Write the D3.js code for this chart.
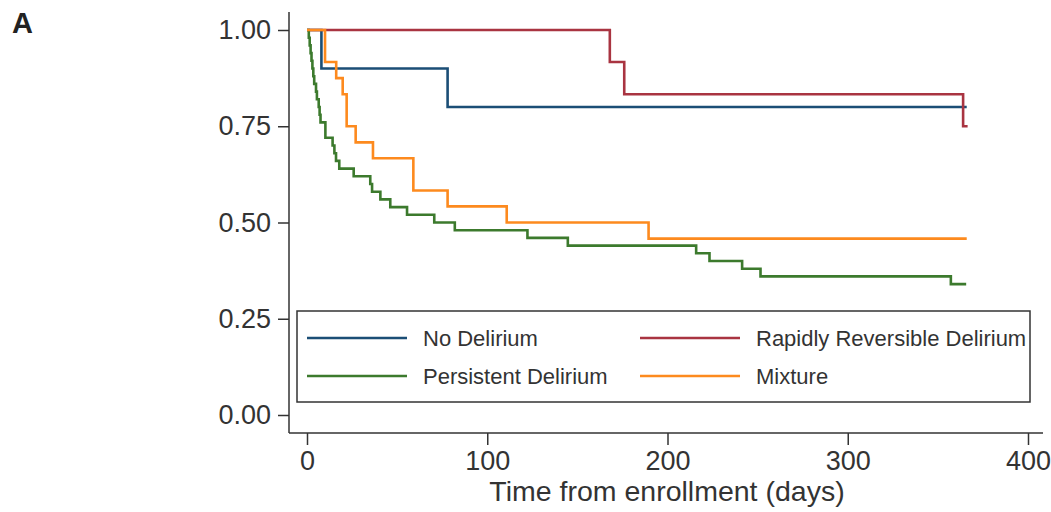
<!DOCTYPE html>
<html>
<head>
<meta charset="utf-8">
<script src="https://cdn.jsdelivr.net/npm/d3@7"></script>
<style>
  body { margin: 0; background: #fff; }
  svg { display: block; font-family: "Liberation Sans", Arial, sans-serif; }
</style>
</head>
<body>
<svg id="chart"></svg>
<script>
// Kaplan-Meier style survival curves
const groupNames = ["No Delirium", "Rapidly Reversible Delirium", "Persistent Delirium", "Mixture"];
const groupColors = ["#1b4e76", "#a93441", "#3c7a2d", "#fd8a1e"];

// [day, survival] at each step; last point is end of follow-up
const noDelirium = [[0, 1], [8, 0.9], [78, 0.8], [366, 0.8]];
const rapidlyReversible = [[0, 1], [168, 0.917], [176, 0.833], [364, 0.75], [366.5, 0.75]];
const persistent = [
  [0, 1], [1, 0.98], [1.5, 0.96], [2, 0.94], [2.5, 0.92], [3, 0.90], [3.5, 0.88],
  [4, 0.86], [5, 0.84], [5.5, 0.82], [6.5, 0.80], [7, 0.78], [7.5, 0.76],
  [10.2, 0.72], [14.2, 0.70], [15.2, 0.68], [16.1, 0.66], [17.9, 0.64],
  [25.9, 0.62], [35.1, 0.60], [36.1, 0.58], [40.7, 0.56], [46.2, 0.54],
  [55.5, 0.52], [70.6, 0.50], [82, 0.48], [122.3, 0.46], [144.7, 0.44],
  [215.9, 0.42], [223.3, 0.40], [241.4, 0.38], [251.6, 0.36], [357.2, 0.34],
  [365.7, 0.34]
];
const mixture = [
  [0, 1], [10, 0.917], [16.2, 0.875], [19.8, 0.833], [22, 0.75], [27, 0.708],
  [36.6, 0.667], [59, 0.583], [78, 0.542], [110.8, 0.5], [189.5, 0.458],
  [366, 0.458]
];
const curves = [noDelirium, rapidlyReversible, persistent, mixture];

const xTicks = [0, 100, 200, 300, 400];
const yTicks = [0, 0.25, 0.5, 0.75, 1];

// Constants
const width = 1051;
const height = 512;
const axisX = 289;   // y axis position
const axisY = 433;   // x axis position
const textColor = "#333";

const svg = d3.select("#chart")
    .attr("width", width)
    .attr("height", height);

// Scales
const xScale = d3.scaleLinear()
    .domain([0, 400])
    .range([307, 1028]);

const yScale = d3.scaleLinear()
    .domain([0, 1])
    .range([415, 30]);

// Axes
const xAxis = d3.axisBottom(xScale)
    .tickValues(xTicks)
    .tickSize(12)
    .tickPadding(6)
    .tickFormat(d3.format("d"));

const yAxis = d3.axisLeft(yScale)
    .tickValues(yTicks)
    .tickSize(11)
    .tickPadding(7)
    .tickFormat(d3.format(".2f"));

const gx = svg.append("g")
    .attr("transform", `translate(0,${axisY})`)
    .call(xAxis);

const gy = svg.append("g")
    .attr("transform", `translate(${axisX},0)`)
    .call(yAxis);

[gx, gy].forEach(g => {
  g.select(".domain").remove();
  g.selectAll(".tick line").attr("stroke", textColor).attr("stroke-width", 1.5);
  g.selectAll(".tick text")
      .attr("fill", textColor)
      .attr("font-size", 27)
      .attr("font-family", "Liberation Sans, Arial, sans-serif");
});

// axis lines extend past the plot region, Stata style
svg.append("line")
    .attr("x1", axisX).attr("x2", 1043)
    .attr("y1", axisY).attr("y2", axisY)
    .attr("stroke", textColor).attr("stroke-width", 1.5);

svg.append("line")
    .attr("x1", axisX).attr("x2", axisX)
    .attr("y1", 12).attr("y2", axisY)
    .attr("stroke", textColor).attr("stroke-width", 1.5);

// Curves
const line = d3.line()
    .x(d => xScale(d[0]))
    .y(d => yScale(d[1]))
    .curve(d3.curveStepAfter);

svg.append("g")
  .selectAll("path")
  .data(curves)
  .enter()
    .append("path")
    .attr("d", line)
    .attr("fill", "none")
    .attr("stroke", (d, i) => groupColors[i])
    .attr("stroke-width", 2.6);

// Legend
const legend = svg.append("g");

legend.append("rect")
    .attr("x", 297)
    .attr("y", 311)
    .attr("width", 733)
    .attr("height", 91)
    .attr("fill", "#fff")
    .attr("stroke", textColor)
    .attr("stroke-width", 1.5);

const legendItems = legend.selectAll("g.item")
  .data(groupNames)
  .enter()
    .append("g")
    .attr("class", "item")
    .attr("transform", (d, i) => `translate(${i % 2 === 0 ? 307 : 640},${i < 2 ? 338 : 376})`);

legendItems.append("line")
    .attr("x1", 0).attr("x2", 100)
    .attr("stroke", (d, i) => groupColors[i])
    .attr("stroke-width", 2.6);

legendItems.append("text")
    .attr("x", 116)
    .attr("dy", "0.35em")
    .attr("font-size", 22)
    .attr("fill", textColor)
    .text(d => d);

// Titles
svg.append("text")
    .attr("x", 667)
    .attr("y", 501)
    .style("text-anchor", "middle")
    .attr("font-size", 28.5)
    .attr("fill", textColor)
    .text("Time from enrollment (days)");

svg.append("text")
    .attr("x", 12)
    .attr("y", 33)
    .attr("font-size", 29)
    .attr("font-weight", "bold")
    .attr("fill", "#222")
    .text("A");
</script>
</body>
</html>
